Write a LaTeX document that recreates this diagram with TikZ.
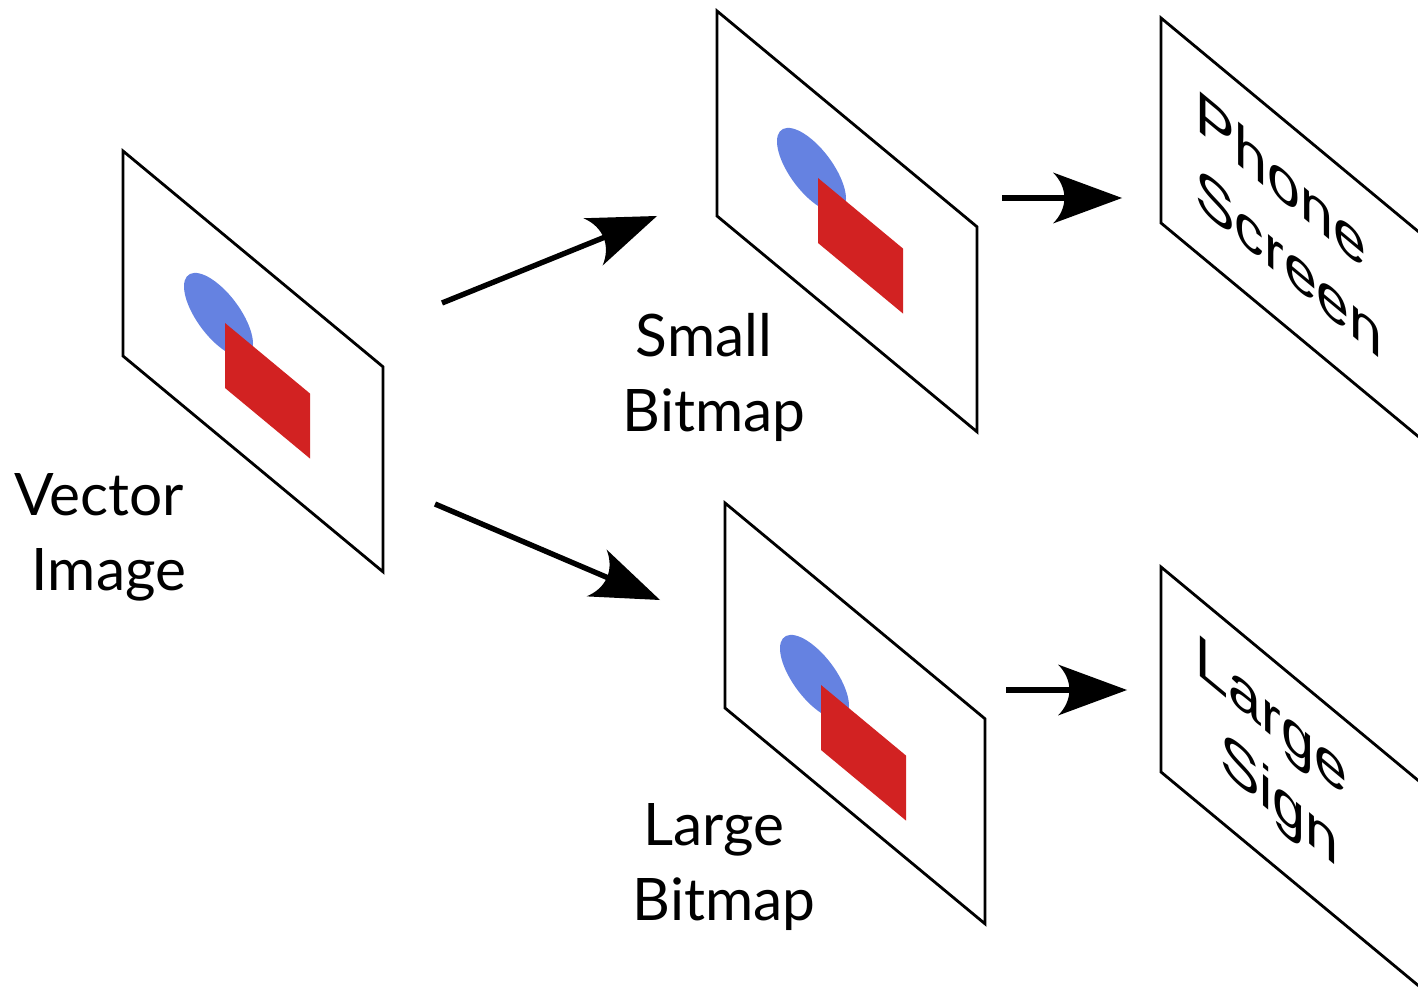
\documentclass[tikz,border=0pt]{standalone}
\usepackage{fontspec}
\newfontfamily\labelfont{Lato}
\newfontfamily\signfont{Liberation Sans}
\usetikzlibrary{arrows.meta}

\definecolor{ovalblue}{RGB}{101,130,225}
\definecolor{rectred}{RGB}{210,34,34}

% Filled arrow head with a swept-in (curved) back
\pgfdeclarearrow{
  name = Swept,
  defaults = {length = 34.5pt, width = 25.5pt},
  setup code = {
    \pgfarrowssettipend{0pt}
    \pgfarrowssetlineend{-.8\pgfarrowlength}
    \pgfarrowssetbackend{-\pgfarrowlength}
    \pgfarrowssetvisualbackend{-.83\pgfarrowlength}
    \pgfarrowshullpoint{0pt}{0pt}
    \pgfarrowsupperhullpoint{-\pgfarrowlength}{.5\pgfarrowwidth}
    \pgfarrowssavethe\pgfarrowlength
    \pgfarrowssavethe\pgfarrowwidth
  },
  drawing code = {
    \pgfpathmoveto{\pgfqpoint{0pt}{0pt}}
    \pgfpathlineto{\pgfqpoint{-\pgfarrowlength}{.5\pgfarrowwidth}}
    \pgfpathcurveto{\pgfqpoint{-.78\pgfarrowlength}{.2\pgfarrowwidth}}%
                   {\pgfqpoint{-.78\pgfarrowlength}{-.2\pgfarrowwidth}}%
                   {\pgfqpoint{-\pgfarrowlength}{-.5\pgfarrowwidth}}
    \pgfpathclose
    \pgfusepathqfill
  },
  parameters = {\the\pgfarrowlength,\the\pgfarrowwidth},
}

% first line of a caption sits a little to the left of the second
\newcommand{\lagA}{\hspace*{10pt}}
\newcommand{\lagB}{\hspace*{8pt}}

\begin{document}
\begin{tikzpicture}[x=0.5pt, y=-0.5pt,
  panel/.style={draw=black, line width=1.4pt, line join=miter},
  flow/.style={line width=2.7pt, -{Swept[length=34.5pt,width=25.5pt]}},
  caption/.style={font=\labelfont\fontsize{29.3}{37.5}\selectfont,
    align=center, inner sep=0pt, anchor=north},
  signtext/.style={font=\signfont\fontsize{29.6}{38.5}\selectfont,
    align=center, inner sep=0pt, anchor=north, transform shape},
  artwork/.pic={
    \fill[ovalblue] (-6.5,-2.5) ellipse [x radius=34.5, y radius=31];
    \fill[rectred] (0,0) -- (85,0) -- (85,65) -- (0,65) -- cycle;
  },
  tilted/.style={yslant=-0.83}
]
\useasboundingbox (0,0) rectangle (1418,988);
\clip (0,0) rectangle (1418,988);

% ---- sheets seen in perspective ----
\begin{scope}[shift={(123,151)}, tilted]
  \draw[panel] (0,0) -- (260,0) -- (260,205) -- (0,205) -- cycle;
\end{scope}
\begin{scope}[shift={(225,323)}, tilted]
  \pic[transform shape] {artwork};
\end{scope}

\begin{scope}[shift={(717,11)}, tilted]
  \draw[panel] (0,0) -- (260,0) -- (260,205) -- (0,205) -- cycle;
\end{scope}
\begin{scope}[shift={(818,178)}, tilted]
  \pic[transform shape] {artwork};
\end{scope}

\begin{scope}[shift={(725,503)}, tilted]
  \draw[panel] (0,0) -- (260,0) -- (260,205) -- (0,205) -- cycle;
\end{scope}
\begin{scope}[shift={(821,685)}, tilted]
  \pic[transform shape] {artwork};
\end{scope}

\begin{scope}[shift={(1161,18)}, tilted]
  \draw[panel] (0,0) -- (260,0) -- (260,205) -- (0,205) -- cycle;
  \node[signtext] (phone) at (128,38.5) {Phone\lagB\\Screen};
\end{scope}

\begin{scope}[shift={(1161,567)}, tilted]
  \draw[panel] (0,0) -- (260,0) -- (260,205) -- (0,205) -- cycle;
  \node[signtext] (sign) at (118.5,35.5) {Large\lagB\\Sign};
\end{scope}

% ---- captions ----
\node[caption] (vec) at (109,473) {Vector\lagA\\Image};
\node[caption] (small) at (714,313) {Small\lagA\\Bitmap};
\node[caption] (large) at (724,803) {Large\lagA\\Bitmap};

% ---- flow arrows ----
\coordinate (a1s) at (442,303);
\coordinate (a1e) at (657,216);
\coordinate (a2s) at (435,504);
\coordinate (a2e) at (660,600);
\coordinate (a3s) at (1002,198);
\coordinate (a3e) at (1122,198);
\coordinate (a4s) at (1006,690);
\coordinate (a4e) at (1127,690);

\draw[flow] (a1s) -- (a1e);
\draw[flow] (a2s) -- (a2e);
\draw[flow] (a3s) -- (a3e);
\draw[flow] (a4s) -- (a4e);
\end{tikzpicture}
\end{document}
